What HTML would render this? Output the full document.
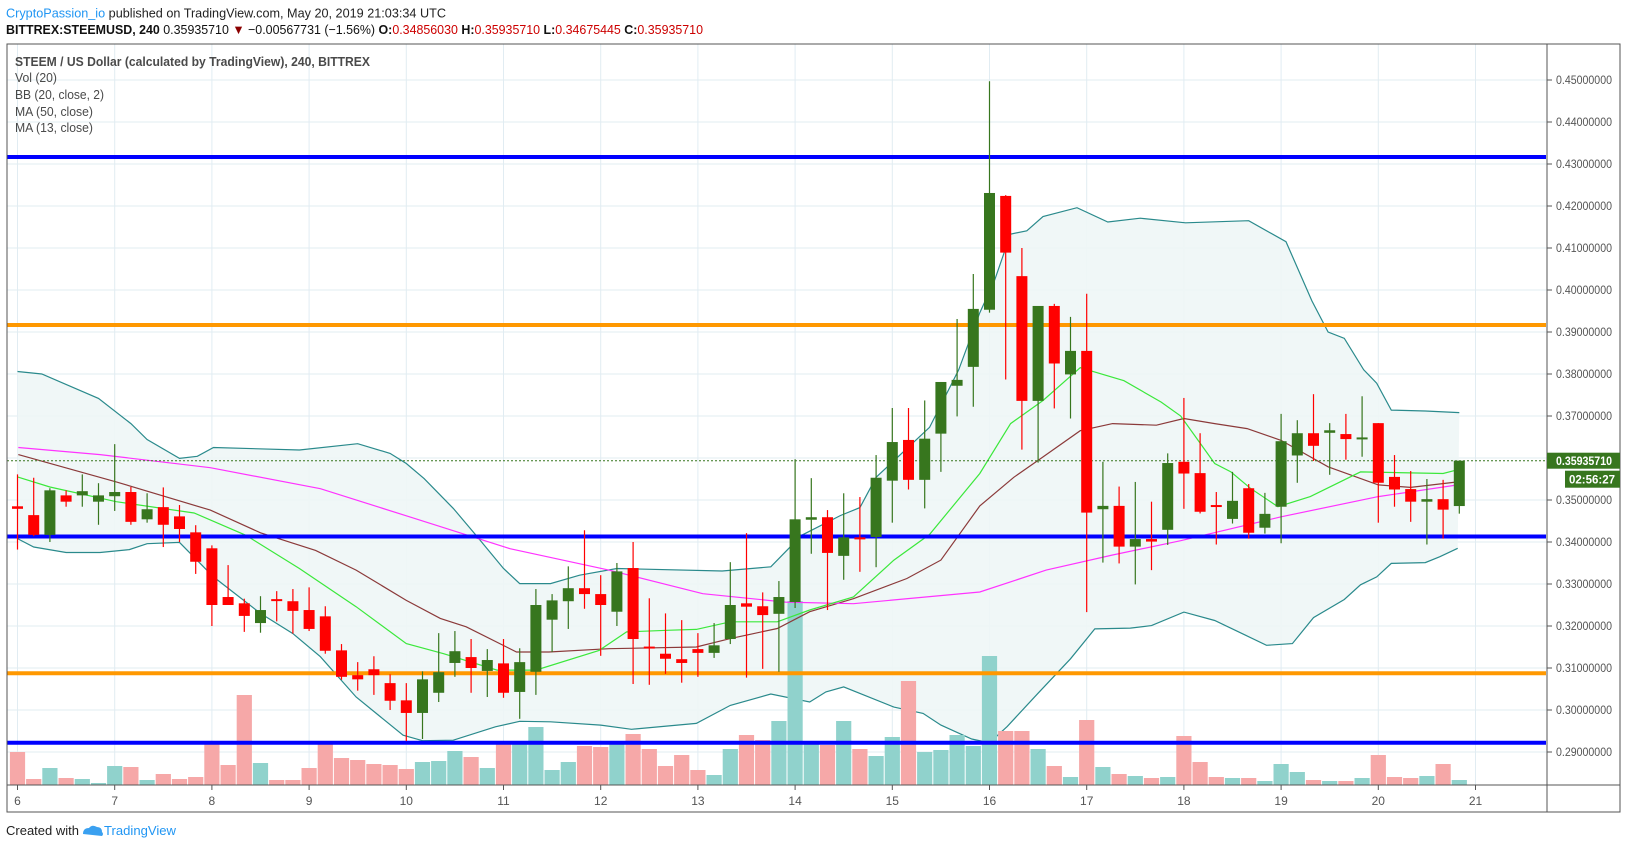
<!DOCTYPE html>
<html><head><meta charset="utf-8"><style>
html,body{margin:0;padding:0;background:#fff;width:1627px;height:849px;overflow:hidden;}
svg{display:block;font-family:"Liberation Sans",sans-serif;}
</style></head><body>
<svg id="chart" width="1627" height="849" viewBox="0 0 1627 849" xmlns="http://www.w3.org/2000/svg">
<text x="6" y="17.5" font-size="13" textLength="440" lengthAdjust="spacingAndGlyphs" fill="#222"><tspan fill="#2196f3">CryptoPassion_io</tspan> published on TradingView.com, May 20, 2019 21:03:34 UTC</text>
<text x="6" y="34" font-size="13" textLength="697" lengthAdjust="spacingAndGlyphs" fill="#111"><tspan font-weight="bold">BITTREX:STEEMUSD, 240</tspan> 0.35935710 <tspan fill="#8b0000">▼</tspan> −0.00567731 (−1.56%) <tspan font-weight="bold">O:</tspan><tspan fill="#c00">0.34856030</tspan> <tspan font-weight="bold">H:</tspan><tspan fill="#c00">0.35935710</tspan> <tspan font-weight="bold">L:</tspan><tspan fill="#c00">0.34675445</tspan> <tspan font-weight="bold">C:</tspan><tspan fill="#c00">0.35935710</tspan></text>
<g id="grid"></g>
<g id="bb"></g>
<g id="vol"></g>
<g id="ma"></g>
<g id="levels"></g>
<g id="candles"></g>
<g id="axes"></g>
<g font-size="12.5" fill="#4a4a4a">
<text x="15" y="66" font-weight="bold" textLength="355" lengthAdjust="spacingAndGlyphs">STEEM / US Dollar (calculated by TradingView), 240, BITTREX</text>
<text x="15" y="82" textLength="42" lengthAdjust="spacingAndGlyphs">Vol (20)</text>
<text x="15" y="99" textLength="89" lengthAdjust="spacingAndGlyphs">BB (20, close, 2)</text>
<text x="15" y="116" textLength="78" lengthAdjust="spacingAndGlyphs">MA (50, close)</text>
<text x="15" y="132" textLength="78" lengthAdjust="spacingAndGlyphs">MA (13, close)</text>
</g>
<g>
<text x="6" y="835" font-size="13" fill="#222" textLength="73" lengthAdjust="spacingAndGlyphs">Created with</text>
<path d="M83 834 q0-6 6-6 q3-4 8-1 q5 0 5 5 q2 2 0 4 z" fill="#3aa0f0"/>
<text x="104" y="835" font-size="13" fill="#2196f3" textLength="72" lengthAdjust="spacingAndGlyphs">TradingView</text>
</g>
</svg>
<script>
const opens=[.3485,.3464,.3417,.3511,.3511,.3496,.3509,.3519,.3454,.3483,.3461,.3423,.3385,.3269,.3254,.3207,.3264,.3259,.3238,.3223,.3142,.3083,.3097,.3064,.3023,.2993,.3041,.3112,.3126,.3093,.3111,.3043,.3091,.3215,.3259,.3290,.3276,.3234,.3338,.3151,.3134,.3121,.3145,.3136,.3169,.3254,.3247,.3229,.3257,.3453,.3459,.3367,.3411,.3412,.3546,.3643,.3548,.3658,.3772,.3817,.3953,.4224,.4033,.3736,.3962,.3799,.3855,.3478,.3486,.3389,.3407,.3429,.3591,.3564,.3488,.3455,.3528,.3434,.3484,.3606,.3659,.3660,.3657,.3646,.3683,.3555,.3526,.3496,.3502,.34856];
const highs=[.3561,.3553,.3528,.3523,.3561,.3540,.3633,.3531,.3516,.3530,.3488,.3440,.3392,.3345,.3265,.3271,.3283,.3288,.3292,.3247,.3157,.3114,.3128,.3085,.3064,.3092,.3183,.3188,.3169,.3145,.3169,.3147,.3288,.3276,.3342,.3428,.3321,.3350,.3400,.3266,.3230,.3214,.3183,.3207,.3352,.3421,.3280,.3307,.3597,.3552,.3476,.3516,.3507,.3607,.3719,.3719,.3737,.3781,.3931,.4038,.4497,.4226,.4100,.3962,.3967,.3936,.3991,.3591,.3532,.3543,.3496,.3611,.3743,.3659,.3519,.3567,.3538,.3517,.3705,.3690,.3752,.3683,.3705,.3747,.3683,.3607,.3569,.3550,.3548,.35936];
const lows=[.3382,.3414,.3400,.3484,.3484,.3441,.3474,.3441,.3446,.3388,.3400,.3324,.3200,.3250,.3186,.3184,.3211,.3182,.3188,.3134,.3072,.3046,.3036,.3000,.2926,.2931,.3019,.3079,.3041,.3031,.3029,.2979,.3036,.3138,.3193,.3241,.3129,.3200,.3062,.3060,.3086,.3065,.3079,.3124,.3157,.3077,.3098,.3091,.3243,.3372,.3238,.3310,.3329,.3340,.3446,.3525,.3480,.3567,.3699,.3722,.3946,.3787,.3620,.3589,.3718,.3694,.3233,.3351,.3349,.3299,.3333,.3393,.3479,.3468,.3394,.3444,.3408,.3420,.3397,.3541,.3593,.3560,.3596,.3603,.3446,.3484,.3448,.3394,.3408,.34675];
const closes=[.3479,.3417,.3523,.3496,.3521,.3511,.3519,.3448,.3478,.3441,.3431,.3353,.3250,.3250,.3224,.3238,.3261,.3236,.3193,.3141,.3079,.3073,.3083,.3022,.2993,.3073,.3090,.3140,.3100,.3119,.3041,.3114,.3250,.3261,.3290,.3276,.3250,.3330,.3169,.3149,.3122,.3112,.3136,.3154,.3250,.3246,.3226,.3269,.3454,.3459,.3374,.3411,.3407,.3553,.3638,.3548,.3646,.3781,.3786,.3955,.4231,.4089,.3736,.3962,.3825,.3855,.3470,.3486,.3389,.3407,.3401,.3588,.3563,.3472,.3484,.3498,.3422,.3467,.3640,.3659,.3629,.3666,.3645,.3649,.3541,.3525,.3496,.3502,.3477,.35936];
const volumes=[33,6,17,7,6,2,19,18,5,11,6,8,41,20,90,22,5,5,17,44,27,25,21,20,16,23,24,34,28,17,42,44,58,15,23,39,38,44,51,36,19,30,15,10,36,50,45,64,184,42,40,64,36,29,48,104,33,35,50,39,129,54,54,36,19,8,65,18,11,9,7,8,49,23,8,7,7,4,21,13,5,4,4,7,30,8,7,9,21,5];
const bbUpperIdx=[0,1.5,5,7,8,10,11.1,12.1,17.4,21,23,24,25.1,26.9,28.3,30,31,32.9,34.7,37,43.5,46.5,48.4,50.8,52,53,56.3,58.1,59.4,60.3,61.3,62.3,63.3,65.4,67.3,69.3,72.1,76,78.3,79.9,80.9,81.9,83.1,83.9,84.8,86.9,89];
const bbUpper=[.3806,.3800,.3742,.3682,.3644,.3599,.3604,.3625,.3619,.3634,.3611,.3587,.3551,.3480,.3416,.3337,.3301,.3301,.3321,.3337,.3331,.3341,.3416,.3463,.3482,.3554,.3673,.3810,.3946,.4022,.4133,.4141,.4175,.4196,.4162,.4171,.4160,.4165,.4115,.3974,.3900,.3885,.3810,.3778,.3714,.3712,.3708];
const bbLowerIdx=[0,1,3,5.1,6.9,8,10,12.1,15,17,18.7,20.9,23.8,25,26.9,29.5,31,32.9,36,37.9,41.9,44,46.5,48.9,49.9,51,54.1,55.9,57,58.9,60,61.1,63,65,66.5,68.7,70,72,73.9,75.8,77.1,78.7,80,81.9,82.9,83.9,84.8,86.9,87.8,88.9];
const bbLower=[.3408,.3388,.3375,.3375,.3382,.3396,.3399,.3317,.3230,.3182,.3127,.3031,.2940,.2927,.2928,.2960,.2973,.2972,.2964,.2954,.2968,.3011,.3038,.3019,.3043,.3055,.3007,.2992,.2964,.2931,.2922,.2961,.3040,.3122,.3193,.3195,.3201,.3233,.3213,.3178,.3154,.3158,.3220,.3263,.3298,.3317,.3349,.3351,.3365,.3385];
const bbBasisIdx=[0.05,6.1,11.9,15,18.4,20.9,24,26.1,27.7,30.8,32.8,36.5,41.9,44,46.9,48.9,51.6,54.9,57,59.4,61.5,63.1,65.6,67.6,70.3,72,73.9,75.9,78,80.9,84,86,88.9];
const bbBasis=[.3608,.3543,.3476,.3422,.3380,.3333,.3261,.3218,.3198,.3138,.3138,.3146,.3150,.3170,.3194,.3234,.3265,.3313,.3357,.3486,.3554,.3597,.3665,.3682,.3678,.3694,.3682,.3670,.3642,.3579,.3536,.3530,.3543];
const ma13Idx=[0,2,6.1,10.9,14.1,17.4,20.9,24,26.3,29.6,32,35.9,37.6,40.3,41.9,44,46.9,48.9,51.6,54.1,56.3,59.4,61.3,63.3,65.6,68.3,70.6,71.8,73.9,74.9,76.1,77.8,79.8,82.9,88,89];
const ma13=[.3555,.3531,.3496,.3469,.3416,.3337,.3246,.3158,.3134,.3095,.3095,.3142,.3186,.3190,.3192,.3210,.3210,.3238,.3269,.3357,.3418,.3563,.3682,.3737,.3815,.3784,.3733,.3700,.3587,.3567,.3528,.3484,.3508,.3567,.3563,.3573];
const ma50Idx=[0.05,5.1,11.9,18.7,24.2,30.4,36.5,42.3,47.4,51.6,59.4,63.5,67.6,71.8,78,84,88.9];
const ma50=[.3625,.3608,.3577,.3527,.3460,.3384,.3333,.3277,.3257,.3253,.3281,.3333,.3369,.3403,.3460,.3508,.3536];
const priceTicks=[0.29,0.30,0.31,0.32,0.33,0.34,0.35,0.36,0.37,0.38,0.39,0.40,0.41,0.42,0.43,0.44,0.45];
const dayLabels=["6","7","8","9","10","11","12","13","14","15","16","17","18","19","20","21"];
const levelBlue=[0.43167,0.34131,0.29221];
const levelOrange=[0.39167,0.30874];
const lastPrice=0.35935710;

const NS="http://www.w3.org/2000/svg";
const L=7,R=1547,T=44,B=785;
function yP(p){return 80+(0.45-p)*4200;}
function xI(i){return 17.5+i*16.2;}
function xDay(d){return xI((d-6)*6);}
const volMax=Math.max(...volumes);
function yV(v){return B-v/volMax*184;}
function mk(tag,attrs,parent){const e=document.createElementNS(NS,tag);for(const k in attrs)e.setAttribute(k,attrs[k]);parent.appendChild(e);return e;}
function poly(idx,vals){return idx.map((v,k)=>xI(v).toFixed(1)+','+yP(vals[k]).toFixed(1)).join(' ');}

const g=document.getElementById('grid');
priceTicks.forEach(p=>{const l=mk('line',{x1:L,x2:R,y1:yP(p),y2:yP(p),stroke:'#e1ecf2','stroke-width':1},g);

});
dayLabels.forEach(d=>{const x=xDay(+d);const l=mk('line',{x1:x,x2:x,y1:T,y2:B,stroke:'#e1ecf2','stroke-width':1},g);

});

const bb=document.getElementById('bb');
const up=bbUpperIdx.map((v,k)=>xI(v).toFixed(1)+','+yP(bbUpper[k]).toFixed(1));
const lo=bbLowerIdx.map((v,k)=>xI(v).toFixed(1)+','+yP(bbLower[k]).toFixed(1)).reverse();
const fill=mk('polygon',{points:up.concat(lo).join(' '),fill:'#eef6f6','fill-opacity':0.9},bb);



const vg=document.getElementById('vol');
volumes.forEach((v,i)=>{const up=closes[i]>=opens[i];const r=mk('rect',{x:xI(i)-7.6,y:yV(v),width:15.2,height:B-yV(v),fill:up?'#90d2cc':'#f6a8a8'},vg);

});

const bu=mk('polyline',{points:poly(bbUpperIdx,bbUpper),fill:'none',stroke:'#2a8a8c','stroke-width':1.2},bb);


const bl=mk('polyline',{points:poly(bbLowerIdx,bbLower),fill:'none',stroke:'#2a8a8c','stroke-width':1.2},bb);



const mg=document.getElementById('ma');
const mb=mk('polyline',{points:poly(bbBasisIdx,bbBasis),fill:'none',stroke:'#8b3a3a','stroke-width':1.2},mg);


const m50=mk('polyline',{points:poly(ma50Idx,ma50),fill:'none',stroke:'#ff33ff','stroke-width':1.2},mg);


const m13=mk('polyline',{points:poly(ma13Idx,ma13),fill:'none',stroke:'#3be83b','stroke-width':1.2},mg);



const lv=document.getElementById('levels');
levelBlue.forEach(p=>{const l=mk('line',{x1:L,x2:R-1,y1:yP(p),y2:yP(p),stroke:'#0000ff','stroke-width':4},lv);

});
levelOrange.forEach(p=>{const l=mk('line',{x1:L,x2:R-1,y1:yP(p),y2:yP(p),stroke:'#ff9800','stroke-width':4},lv);

});
const pl=mk('line',{x1:L,x2:R,y1:yP(lastPrice),y2:yP(lastPrice),stroke:'#37761e','stroke-width':1,'stroke-dasharray':'2,2'},lv);



const cg=document.getElementById('candles');
opens.forEach((o,i)=>{const c=closes[i];const col=c>=o?'#37761e':'#ff0000';const x=xI(i);
const w=mk('line',{x1:x,x2:x,y1:yP(highs[i]),y2:yP(lows[i]),stroke:col,'stroke-width':1.2},cg);


const top=yP(Math.max(o,c)),bot=yP(Math.min(o,c));
const b=mk('rect',{x:x-5.5,y:top,width:11,height:Math.max(bot-top,2),fill:col},cg);

});

const ax=document.getElementById('axes');
const fr=mk('rect',{x:L,y:T,width:1620-L,height:812-T,fill:'none',stroke:'#555','stroke-width':1},ax);


const vs=mk('line',{x1:R,x2:R,y1:T,y2:812,stroke:'#555','stroke-width':1},ax);


const hs=mk('line',{x1:L,x2:1620,y1:B,y2:B,stroke:'#555','stroke-width':1},ax);


priceTicks.forEach(p=>{const y=yP(p);
const tk=mk('line',{x1:R,x2:R+5,y1:y,y2:y,stroke:'#555'},ax);


const t=mk('text',{x:1556,y:y+4,'font-size':11.5,fill:'#555',textLength:56,lengthAdjust:'spacingAndGlyphs'},ax);t.textContent=p.toFixed(8);

});
dayLabels.forEach(d=>{const x=xDay(+d);
const tk=mk('line',{x1:x,x2:x,y1:B,y2:B+5,stroke:'#555'},ax);


const t=mk('text',{x:x,y:805,'font-size':12,fill:'#555','text-anchor':'middle'},ax);t.textContent=d;

});
const yl=yP(lastPrice);
const pb=mk('rect',{x:R,y:yl-8,width:73,height:16,fill:'#37761e'},ax);


const pt=mk('text',{x:1556,y:yl+4.5,'font-size':11.5,'font-weight':'bold',fill:'#fff',textLength:56,lengthAdjust:'spacingAndGlyphs'},ax);pt.textContent=lastPrice.toFixed(8);


const tb=mk('rect',{x:1565,y:yl+10,width:55,height:17,fill:'#37761e'},ax);


const tt=mk('text',{x:1592,y:yl+23,'font-size':11.5,'font-weight':'bold',fill:'#fff','text-anchor':'middle'},ax);tt.textContent='02:56:27';


</script>
</body></html>
